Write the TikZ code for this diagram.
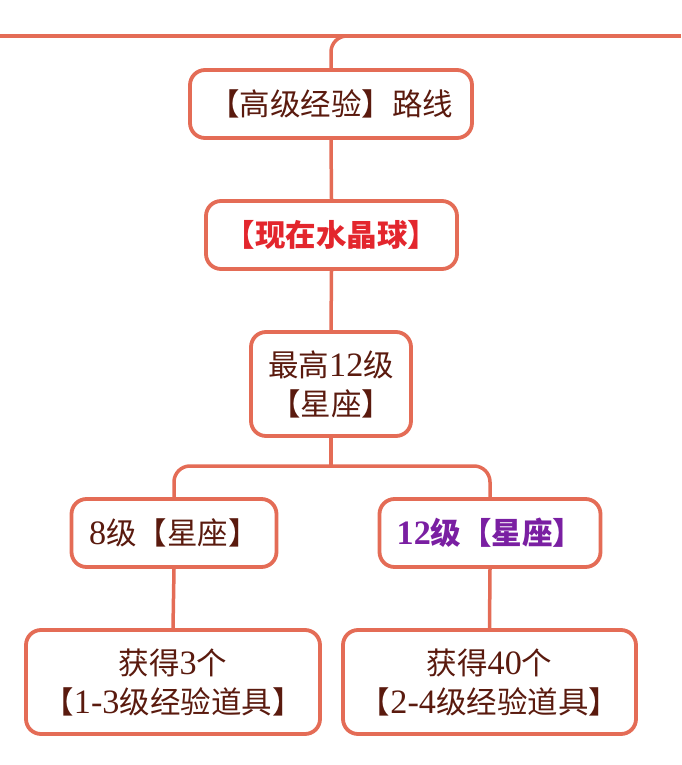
\documentclass[tikz,border=0pt]{standalone}
\usepackage{fontspec}
\setmainfont{Liberation Serif}[Scale=1.12]
\newfontfamily\cjk{Noto Sans CJK SC}
\definecolor{coral}{HTML}{E46C56}
\definecolor{txt}{HTML}{5A1A0E}
\definecolor{hired}{HTML}{E3262D}
\definecolor{hipurple}{HTML}{7A1FA2}
\tikzset{
  box/.style={draw=coral, line width=3.8pt, rounded corners=15pt, fill=white,
    text=txt, align=center, inner sep=0pt, font=\fontsize{30.5}{39}\selectfont},
  link/.style={draw=coral, line width=3.5pt, rounded corners=16pt}
}
\begin{document}
\begin{tikzpicture}[x=1pt,y=-1pt]
\useasboundingbox (0,0) rectangle (681,765);
\coordinate (tl) at (0,36);
\coordinate (tr) at (681,36);
\coordinate (tj) at (370,36);
\draw[coral, line width=4pt] (tl) -- (tr);
\node[box, minimum width=282pt, minimum height=68pt] (n1) at (331,104) {\cjk 【高级经验】路线};
\node[box, minimum width=251pt, minimum height=68pt, text=hired] (n2) at (331.5,235) {\cjk\bfseries 【现在水晶球】};
\node[box, minimum width=160pt, minimum height=104pt] (n3) at (331,384) {{\cjk 最高}12{\cjk 级}\\{\cjk 【星座】}};
\node[box, minimum width=205pt, minimum height=68pt] (n4) at (174,533) {8{\cjk 级【星座】}};
\node[box, minimum width=221pt, minimum height=68pt, text=hipurple] (n5) at (490,533) {\bfseries 12{\cjk 级【星座】}};
\node[box, minimum width=294pt, minimum height=104pt] (n6) at (173,682) {{\cjk 获得}3{\cjk 个}\\{\cjk 【}1-3{\cjk 级经验道具】}};
\node[box, minimum width=293pt, minimum height=104pt] (n7) at (489.5,682) {{\cjk 获得}40{\cjk 个}\\{\cjk 【}2-4{\cjk 级经验道具】}};
\coordinate (br) at (331,466);
\draw[link] (n1.north) |- (tj);
\draw[link] (n1.south) -- (n2.north);
\draw[link] (n2.south) -- (n3.north);
\draw[link] (n3.south) -- (br);
\draw[link] (n4.north) |- (br) -| (n5.north);
\draw[link] (n4.south) -- (n6.north);
\draw[link] (n5.south) -- (n7.north);
\end{tikzpicture}
\end{document}
